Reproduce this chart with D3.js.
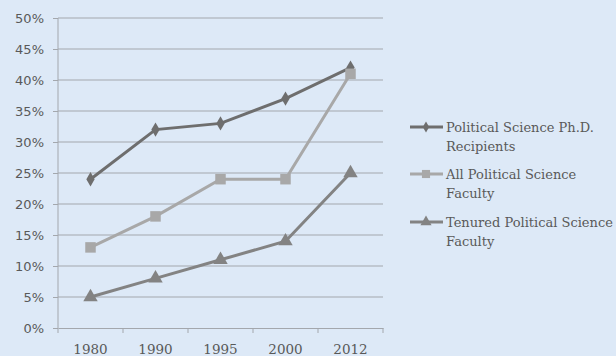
<!DOCTYPE html>
<html>
<head>
<meta charset="utf-8">
<script src="https://cdn.jsdelivr.net/npm/d3@7"></script>
<style>
  html, body { margin: 0; padding: 0; background: #dde9f7; }
  svg { display: block; }
  text { font-family: "DejaVu Serif", serif; fill: #595959; }
</style>
</head>
<body>
<div class="visualisation"></div>
<script>
// Chart values
const years = ["1980", "1990", "1995", "2000", "2012"];
const seriesNames = ["Political Science Ph.D. Recipients", "All Political Science Faculty", "Tenured Political Science Faculty"];
const phdValues = [24, 32, 33, 37, 42];
const facultyValues = [13, 18, 24, 24, 41];
const tenuredValues = [5, 8, 11, 14, 25];
const yTicks = [0, 5, 10, 15, 20, 25, 30, 35, 40, 45, 50];

const width = 616;
const height = 356;
const plot = { left: 58, right: 383, top: 18, bottom: 328 };

const series = [
    { name: seriesNames[0], values: phdValues, color: "#6e6e6e", symbol: d3.symbolDiamond, size: 60, legendLines: ["Political Science Ph.D.", "Recipients"] },
    { name: seriesNames[1], values: facultyValues, color: "#a8a8a8", symbol: d3.symbolSquare, size: 110, legendLines: ["All Political Science", "Faculty"] },
    { name: seriesNames[2], values: tenuredValues, color: "#838383", symbol: d3.symbolTriangle, size: 90, legendLines: ["Tenured Political Science", "Faculty"] }
];

const svg = d3.select(".visualisation")
    .append("svg")
    .attr("width", width)
    .attr("height", height);

const x = d3.scaleBand()
    .domain(years)
    .range([plot.left, plot.right]);

const y = d3.scaleLinear()
    .domain([0, 50])
    .range([plot.bottom, plot.top]);

// gridlines
svg.append("g")
    .selectAll("line")
    .data(yTicks.filter(d => d > 0))
    .join("line")
    .attr("x1", plot.left)
    .attr("x2", plot.right)
    .attr("y1", d => y(d))
    .attr("y2", d => y(d))
    .attr("stroke", "#a3a7ad")
    .attr("stroke-width", 1);

// y axis
const yAxis = svg.append("g")
    .attr("transform", `translate(${plot.left},0)`)
    .call(d3.axisLeft(y).tickValues(yTicks).tickSize(5).tickPadding(9).tickFormat(d => d + "%"));
yAxis.select(".domain").attr("stroke", "#a3a7ad").attr("d", `M0,${plot.top}V${plot.bottom}`);
yAxis.selectAll(".tick line").attr("stroke", "#a3a7ad");
yAxis.selectAll(".tick text")
    .attr("font-size", 13)
    .style("font-family", "'DejaVu Sans', sans-serif")
    .attr("fill", "#595959");

// x axis
const xAxis = svg.append("g")
    .attr("transform", `translate(0,${plot.bottom})`)
    .call(d3.axisBottom(x).tickSize(0).tickPadding(16));
xAxis.select(".domain").attr("stroke", "#a3a7ad");
xAxis.selectAll(".tick text").attr("font-size", 13.5).attr("fill", "#595959");
svg.append("g")
    .selectAll("line")
    .data(years.map(d => x(d)).concat([plot.right]))
    .join("line")
    .attr("x1", d => d)
    .attr("x2", d => d)
    .attr("y1", plot.bottom)
    .attr("y2", plot.bottom + 5)
    .attr("stroke", "#a3a7ad");

const cx = d => x(d) + x.bandwidth() / 2;

const line = d3.line()
    .x((d, i) => cx(years[i]))
    .y(d => y(d));

series.forEach(s => {
    svg.append("path")
        .datum(s.values)
        .attr("fill", "none")
        .attr("stroke", s.color)
        .attr("stroke-width", 3)
        .attr("d", line);

    svg.append("g")
        .selectAll("path")
        .data(s.values)
        .join("path")
        .attr("transform", (d, i) => `translate(${cx(years[i])},${y(d)})`)
        .attr("d", d3.symbol().type(s.symbol).size(s.size))
        .attr("fill", s.color);
});

// legend
const legendY = [127, 174, 222];
const legend = svg.append("g");
series.forEach((s, i) => {
    const g = legend.append("g").attr("transform", `translate(410,${legendY[i]})`);
    g.append("line")
        .attr("x1", 0)
        .attr("x2", 33)
        .attr("stroke", s.color)
        .attr("stroke-width", 3);
    g.append("path")
        .attr("transform", "translate(16,0)")
        .attr("d", d3.symbol().type(s.symbol).size(s.size * 0.6))
        .attr("fill", s.color);
    g.selectAll("text")
        .data(s.legendLines)
        .join("text")
        .attr("x", 36)
        .attr("y", (d, j) => j * 19)
        .attr("dy", "0.35em")
        .attr("font-size", 13)
        .text(d => d);
});
</script>
</body>
</html>
